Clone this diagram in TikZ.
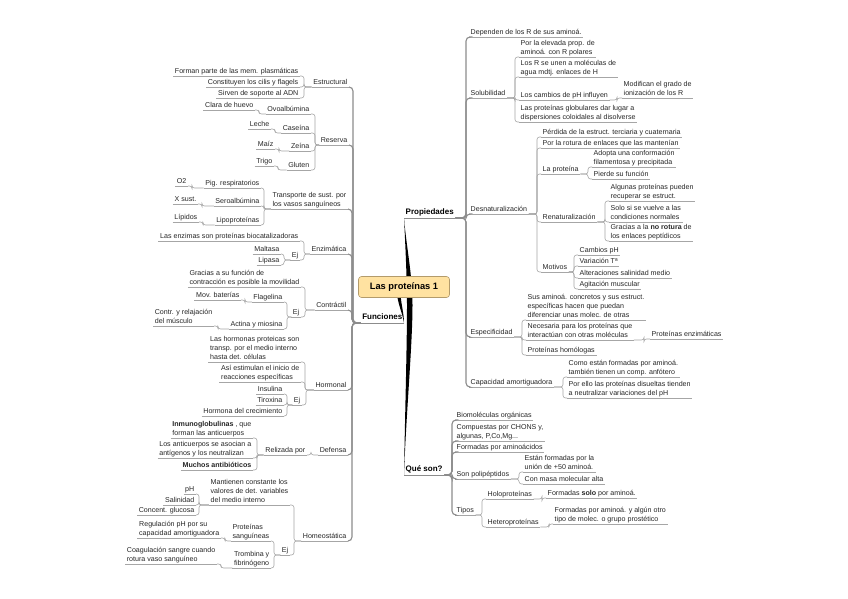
\documentclass[tikz,border=0pt]{standalone}
\usepackage{fontspec}
\setmainfont{Liberation Sans}
\usetikzlibrary{calc,backgrounds}
\definecolor{txt}{HTML}{262626}
\definecolor{ulc}{HTML}{A6A6A6}
\definecolor{brc}{HTML}{8C8C8C}
\definecolor{cfill}{HTML}{FFE2A1}
\definecolor{cdraw}{HTML}{B39B6B}
\newcommand\LinkL[4][conn]{\foreach \cn in {#4}{\draw[#1] (\cn.south east) -- ++(#3,0) |- (#2.south west);}}
\newcommand\LinkR[4][conn]{\foreach \cn in {#4}{\draw[#1] (\cn.south west) -- ++(-#3,0) |- (#2.south east);}}
\tikzset{
 ulline/.style={draw=ulc,line width=0.6pt},
 mainul/.style={draw=brc,line width=1pt},
 tx/.style={font=\fontsize{7.1}{8.7}\selectfont,text=txt,inner xsep=1.5pt,inner ysep=1pt,text depth=1.6pt,align=left,
   append after command={(\tikzlastnode.south west) edge[ulline] (\tikzlastnode.south east)}},
 nl/.style={tx,anchor=south east},
 nr/.style={tx,anchor=south west},
 mainn/.style={font=\bfseries\fontsize{8}{9}\selectfont,text=black,inner xsep=1.5pt,inner ysep=1.2pt,text depth=1.8pt,
   append after command={(\tikzlastnode.south west) edge[mainul] (\tikzlastnode.south east)}},
 conn/.style={draw=ulc,line width=0.6pt,rounded corners=2.5pt},
 connB/.style={draw=brc,line width=1.1pt,rounded corners=4pt},
 rootbox/.style={draw=cdraw,fill=cfill,rounded corners=3pt,line width=0.6pt,minimum width=91pt,minimum height=21pt,
   font=\bfseries\fontsize{9.3}{10}\selectfont,text=black}
}
\begin{document}
\begin{tikzpicture}[x=1pt,y=-1pt]
\useasboundingbox (0,0) rectangle (848,599);
\begin{scope}[on background layer]
\fill[white] (0,0) rectangle (848,599);
\end{scope}

% root
\node[rootbox] (root) at (404,287) {Las proteínas 1};

% main branches
\node[mainn,anchor=south east] (fun) at (404,323) {Funciones};
\node[mainn,anchor=south west] (prop) at (404,218) {Propiedades};
\node[mainn,anchor=south west] (qs) at (404,475) {Qué son?};

% ---------------- Funciones
\node[nl] (estr) at (349,87) {Estructural};
\node[nl] (res) at (349,145) {Reserva};
\node[nl] (trans) at (348,209) {Transporte de sust. por\\los vasos sanguíneos};
\node[nl] (enz) at (348,254) {Enzimática};
\node[nl] (contr) at (348,310) {Contráctil};
\node[nl] (horm) at (348,390) {Hormonal};
\node[nl] (def) at (348,455) {Defensa};
\node[nl] (homeo) at (348,541) {Homeostática};

\node[nl] (e1) at (300,76) {Forman parte de las mem. plasmáticas};
\node[nl] (e2) at (300,87) {Constituyen los cilis y flagels};
\node[nl] (e3) at (300,98) {Sirven de soporte al ADN};

\node[nl] (ovo) at (311,114) {Ovoalbúmina};
\node[nl] (cas) at (311,133) {Caseína};
\node[nl] (zei) at (311,151) {Zeína};
\node[nl] (glu) at (311,170) {Gluten};
\node[nl] (clara) at (255,110) {Clara de huevo};
\node[nl] (leche) at (271,129) {Leche};
\node[nl] (maiz) at (275,149) {Maíz};
\node[nl] (trigo) at (274,166) {Trigo};

\node[nl] (pig) at (261,188) {Pig. respiratorios};
\node[nl] (sero) at (261,206) {Seroalbúmina};
\node[nl] (lipo) at (261,225) {Lipoproteínas};
\node[nl] (otwo) at (188,186) {O2};
\node[nl] (xs) at (198,204) {X sust.};
\node[nl] (lip) at (199,222) {Lípidos};

\node[nl] (enza) at (300,241) {Las enzimas son proteínas biocatalizadoras};
\node[nl] (eja) at (300,260) {Ej};
\node[nl] (malt) at (281,254) {Maltasa};
\node[nl] (lipa) at (281,265) {Lipasa};

\node[nl] (cona) at (301,287) {Gracias a su función de\\contracción es posible la movilidad};
\node[nl] (ejc) at (301,317) {Ej};
\node[nl] (flag) at (284,302) {Flagelina};
\node[nl] (act) at (284,329) {Actina y miosina};
\node[nl] (mov) at (241,300) {Mov. baterías};
\node[nl] (cyr) at (214,326) {Contr. y relajación\\del músculo};

\node[nl] (ha) at (301,362) {Las hormonas proteicas son\\transp. por el medio interno\\hasta det. células};
\node[nl] (hb) at (301,382) {Así estimulan el inicio de\\reacciones específicas};
\node[nl] (ejh) at (302,405) {Ej};
\node[nl] (ins) at (284,394) {Insulina};
\node[nl] (tir) at (284,405) {Tiroxina};
\node[nl] (hcr) at (284,416) {Hormona del crecimiento};

\node[nl] (rel) at (307,455) {Relizada por};
\node[nl] (inm) at (253,438) {\textbf{Inmunoglobulinas} , que\\forman las anticuerpos};
\node[nl] (anti) at (253,458) {Los anticuerpos se asocian a\\antígenos y los neutralizan};
\node[nl] (mab) at (253,470) {\textbf{Muchos antibióticos}};

\node[nl] (mant) at (290,505) {Mantienen constante los\\valores de det. variables\\del medio interno};
\node[nl] (ejho) at (290,555) {Ej};
\node[nl] (ph) at (196,494) {pH};
\node[nl] (sal) at (196,505) {Salinidad};
\node[nl] (gluc) at (196,515) {Concent. glucosa};
\node[nl] (prot) at (271,541) {Proteínas\\sanguíneas};
\node[nl] (trom) at (271,568) {Trombina y\\fibrinógeno};
\node[nl] (reg) at (221,538) {Regulación pH por su\\capacidad amortiguadora};
\node[nl] (coag) at (217,564) {Coagulación sangre cuando\\rotura vaso sanguíneo};

% ---------------- Propiedades
\node[nr] (dep) at (469,37) {Dependen de los R de sus aminoá.};
\node[nr] (sol) at (469,98) {Solubilidad};
\node[nr] (desn) at (469,214) {Desnaturalización};
\node[nr] (esp) at (469,337) {Especificidad};
\node[nr] (cap) at (469,387) {Capacidad amortiguadora};

\node[nr] (sa) at (519,57) {Por la elevada prop. de\\aminoá. con R polares};
\node[nr] (sb) at (519,77) {Los R se unen a moléculas de\\agua mdtj. enlaces de H};
\node[nr] (sc) at (519,100) {Los cambios de pH influyen};
\node[nr] (sd) at (519,122) {Las proteínas globulares dar lugar a\\dispersiones coloidales al disolverse};
\node[nr] (sca) at (622,98) {Modifican el grado de\\ionización de los R};

\node[nr] (da) at (541,137) {Pérdida de la estruct. terciaria y cuaternaria};
\node[nr] (db) at (541,148) {Por la rotura de enlaces que las mantenían};
\node[nr] (dc) at (541,174) {La proteína};
\node[nr] (dd) at (541,222) {Renaturalización};
\node[nr] (de) at (541,272) {Motivos};
\node[nr] (dca) at (592,167) {Adopta una conformación\\filamentosa y precipitada};
\node[nr] (dcb) at (592,179) {Pierde su función};
\node[nr] (dda) at (609,201) {Algunas proteínas pueden\\recuperar se estruct.};
\node[nr] (ddb) at (609,222) {Solo si se vuelve a las\\condiciones normales};
\node[nr] (ddc) at (609,241) {Gracias a la \textbf{no rotura} de\\los enlaces peptídicos};
\node[nr] (ma) at (578,255) {Cambios pH};
\node[nr] (mbb) at (578,266) {Variación Tª};
\node[nr] (mc) at (578,278) {Alteraciones salinidad medio};
\node[nr] (md) at (578,289) {Agitación muscular};

\node[nr] (pa) at (526,320) {Sus aminoá. concretos y sus estruct.\\específicas hacen que puedan\\diferenciar unas molec. de otras};
\node[nr] (pb) at (526,340) {Necesaria para los proteínas que\\interactúan con otras moléculas};
\node[nr] (pc) at (526,355) {Proteínas homólogas};
\node[nr] (pba) at (650,339) {Proteínas enzimáticas};

\node[nr] (ca) at (567,377) {Como están formadas por aminoá.\\también tienen un comp. anfótero};
\node[nr] (cb) at (567,398) {Por ello las proteínas disueltas tienden\\a neutralizar variaciones del pH};

% ---------------- Qué son
\node[nr] (qa) at (455,420) {Biomoléculas orgánicas};
\node[nr] (qb) at (455,441) {Compuestas por CHONS y,\\algunas, P,Co,Mg...};
\node[nr] (qc) at (455,452) {Formadas por aminoácidos};
\node[nr] (qd) at (455,479) {Son polipéptidos};
\node[nr] (qe) at (455,515) {Tipos};
\node[nr] (qda) at (523,472) {Están formadas por la\\unión de +50 aminoá.};
\node[nr] (qdb) at (523,484) {Con masa molecular alta};
\node[nr] (holo) at (486,499) {Holoproteínas};
\node[nr] (het) at (486,527) {Heteroproteínas};
\node[nr] (holoa) at (546,498) {Formadas \textbf{solo} por aminoá.};
\node[nr] (heta) at (553,524) {Formadas por aminoá. y algún otro\\tipo de molec. o grupo prostético};

% ---------------- connectors
\LinkL[connB]{fun}{4}{estr,res,trans,enz,contr,horm,def,homeo}
\LinkL{estr}{4}{e1,e2,e3}
\LinkL{res}{4}{ovo,cas,zei,glu}
\LinkL{ovo}{4}{clara}
\LinkL{cas}{4}{leche}
\LinkL{zei}{4}{maiz}
\LinkL{glu}{4}{trigo}
\LinkL{trans}{3}{pig,sero,lipo}
\LinkL{pig}{4}{otwo}
\LinkL{sero}{4}{xs}
\LinkL{lipo}{4}{lip}
\LinkL{enz}{4}{enza,eja}
\LinkL{eja}{3}{malt,lipa}
\LinkL{contr}{4}{cona,ejc}
\LinkL{ejc}{3}{flag,act}
\LinkL{flag}{4}{mov}
\LinkL{act}{4}{cyr}
\LinkL{horm}{4}{ha,hb,ejh}
\LinkL{ejh}{3}{ins,tir,hcr}
\LinkL{def}{4}{rel}
\LinkL{rel}{4}{inm,anti,mab}
\LinkL{homeo}{4}{mant,ejho}
\LinkL{mant}{3}{ph,sal,gluc}
\LinkL{ejho}{3}{prot,trom}
\LinkL{prot}{4}{reg}
\LinkL{trom}{4}{coag}

\LinkR[connB]{prop}{3}{dep,sol,desn,esp,cap}
\LinkR{sol}{4}{sa,sb,sc,sd}
\LinkR{sc}{5}{sca}
\LinkR{desn}{4}{da,db,dc,dd,de}
\LinkR{dc}{4}{dca,dcb}
\LinkR{dd}{4}{dda,ddb,ddc}
\LinkR{de}{4}{ma,mbb,mc,md}
\LinkR{esp}{4}{pa,pb,pc}
\LinkR{pb}{6}{pba}
\LinkR{cap}{4}{ca,cb}

\LinkR[connB]{qs}{3}{qa,qb,qc,qd,qe}
\LinkR{qd}{4}{qda,qdb}
\LinkR{qe}{4}{holo,het}
\LinkR{holo}{4}{holoa}
\LinkR{het}{4}{heta}

% tapered main branches (behind root): one lens from Propiedades to Qué son, plus Funciones
\begin{scope}[on background layer]
\fill[black] (prop.south west)
  .. controls +(1.5,30) and +(0,-25) .. ($(root.center)+(3,18)$)
  .. controls +(0,40) and +(1,-60) .. (qs.south west)
  .. controls +(2,-60) and +(0,40) .. ($(root.center)+(8.5,18)$)
  .. controls +(0,-30) and +(2.5,30) .. (prop.south west) -- cycle;
\fill[black] (fun.south east)
  .. controls +(-1.5,-10) and +(0,10) .. ($(root.center)+(-7,5)$)
  -- ($(root.center)+(-3.5,5)$)
  .. controls +(0,10) and +(0,-10) .. (fun.south east) -- cycle;
\end{scope}
\end{tikzpicture}
\end{document}
